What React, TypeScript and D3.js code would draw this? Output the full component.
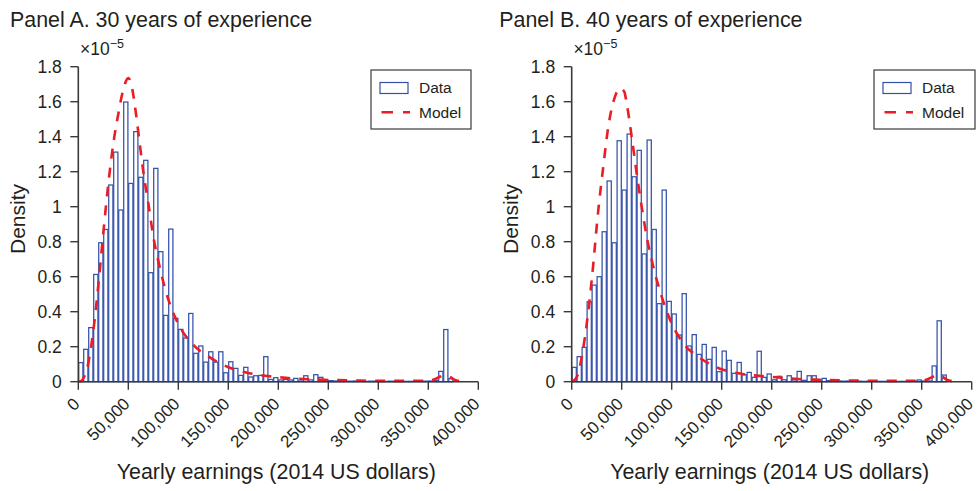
import React from "react";
import * as d3 from "d3";

// ---------- data (density values in units of 1e-5) ----------
const BIN_WIDTH = 5000;

const barsA = [
  0.109, 0.185, 0.309, 0.613, 0.794, 0.870, 1.124, 1.312, 0.981, 1.598,
  1.133, 1.429, 1.168, 1.265, 0.623, 1.219, 0.743, 0.379, 0.872, 0.362,
  0.299, 0.250, 0.390, 0.162, 0.204, 0.112, 0.171, 0.112, 0.171, 0.051,
  0.114, 0.076, 0.036, 0.082, 0.027, 0.034, 0.036, 0.143, 0.013, 0.023,
  0.010, 0.013, 0.010, 0.019, 0.004, 0.034, 0.010, 0.040, 0.025, 0.010,
  0.006, 0.004, 0.004, 0.003, 0.003, 0.004, 0.003, 0.002, 0.003, 0.003,
  0.002, 0.002, 0.003, 0.002, 0.002, 0.002, 0.002, 0.002, 0.003, 0.003,
  0.004, 0.008, 0.059, 0.298, 0.017, 0, 0, 0, 0, 0,
];

const barsB = [
  0.082, 0.143, 0.196, 0.457, 0.552, 0.600, 0.857, 1.147, 0.794, 1.377,
  1.095, 1.415, 1.171, 1.322, 0.730, 1.381, 0.870, 0.446, 1.095, 0.459,
  0.387, 0.267, 0.503, 0.204, 0.269, 0.156, 0.213, 0.128, 0.196, 0.057,
  0.175, 0.122, 0.048, 0.110, 0.040, 0.053, 0.025, 0.174, 0.025, 0.044,
  0.011, 0.031, 0.011, 0.034, 0.011, 0.059, 0.008, 0.034, 0.034, 0.011,
  0.019, 0.006, 0.004, 0.004, 0.003, 0.004, 0.003, 0.003, 0.002, 0.003,
  0.003, 0.002, 0.002, 0.003, 0.002, 0.002, 0.002, 0.003, 0.003, 0.010,
  0.004, 0.004, 0.090, 0.348, 0.038, 0, 0, 0, 0, 0,
];

const modelAx = [0, 3000, 6000, 9000, 12000, 15000, 20000, 25000, 30000, 35000, 40000, 45000, 50000, 53000, 57000, 61000, 65000, 70000, 75000, 82000, 90000, 100000, 115000, 130000, 150000, 170000, 190000, 210000, 230000, 250000, 275000, 300000, 325000, 350000, 356000, 361000, 366000, 371000, 376000, 382000];
const modelAy = [0, 0.005, 0.03, 0.08, 0.17, 0.29, 0.55, 0.85, 1.13, 1.36, 1.53, 1.67, 1.735, 1.70, 1.56, 1.38, 1.20, 1.02, 0.83, 0.64, 0.47, 0.33, 0.21, 0.145, 0.083, 0.05, 0.032, 0.021, 0.014, 0.010, 0.007, 0.005, 0.005, 0.006, 0.013, 0.027, 0.036, 0.030, 0.012, 0.002];

const modelBx = [0, 3000, 6600, 10000, 13300, 20000, 26600, 31600, 36600, 43300, 48300, 52600, 55000, 60000, 65000, 70000, 75000, 81600, 90000, 100000, 111600, 126600, 143300, 166600, 190000, 205000, 226000, 248000, 270000, 290000, 311000, 333000, 350000, 356000, 360000, 365000, 370000, 375000, 381000];
const modelBy = [0, 0.01, 0.048, 0.14, 0.257, 0.58, 0.98, 1.23, 1.457, 1.629, 1.676, 1.657, 1.59, 1.40, 1.19, 1.00, 0.829, 0.657, 0.486, 0.333, 0.219, 0.143, 0.086, 0.048, 0.032, 0.025, 0.015, 0.011, 0.008, 0.006, 0.005, 0.005, 0.007, 0.014, 0.025, 0.035, 0.030, 0.012, 0.002];

const xTicks = [0, 50000, 100000, 150000, 200000, 250000, 300000, 350000, 400000];
const xTickLabels = ["0", "50,000", "100,000", "150,000", "200,000", "250,000", "300,000", "350,000", "400,000"];
const yTicks = [0, 0.2, 0.4, 0.6, 0.8, 1, 1.2, 1.4, 1.6, 1.8];
const yTickLabels = ["0", "0.2", "0.4", "0.6", "0.8", "1", "1.2", "1.4", "1.6", "1.8"];

const titles = ["Panel A. 30 years of experience", "Panel B. 40 years of experience"];
const legendLabels = ["Data", "Model"];
const xLabel = "Yearly earnings (2014 US dollars)";
const yLabel = "Density";

// ---------- style ----------
const FONT = "'Liberation Sans', Arial, Helvetica, sans-serif";
const TEXT = "#231f20";
const AXIS = "#3a3a3a";
const BLUE = "#3352aa";
const RED = "#ec1c24";

interface PanelProps {
  axisX: number;
  titleX: number;
  bars: number[];
  mx: number[];
  my: number[];
  title: string;
  legendX: number;
  legendW: number;
}

const TOP = 66.7;
const BOTTOM = 381.7;
const PW = 400;

function Panel({ axisX, titleX, bars, mx, my, title, legendX, legendW }: PanelProps) {
  const x = d3.scaleLinear().domain([0, 400000]).range([axisX, axisX + PW]);
  const y = d3.scaleLinear().domain([0, 1.8]).range([BOTTOM, TOP]);
  const pts: [number, number][] = mx.map((v, i) => [v, my[i]]);
  const line = d3
    .line<[number, number]>()
    .x((d) => x(d[0]))
    .y((d) => y(d[1]))
    .curve(d3.curveMonotoneX);

  return (
    <g>
      <text x={titleX} y={26.7} fontSize={21.4} fill={TEXT} fontFamily={FONT}>
        {title}
      </text>
      {/* multiplier */}
      <text x={axisX + 1.7} y={55} fontSize={17.5} fill={TEXT} fontFamily={FONT}>
        ×10
        <tspan dy={-7} fontSize={12.5}>
          −5
        </tspan>
      </text>
      {/* bars */}
      <g>
        {bars.map((v, i) =>
          v > 0 ? (
            <rect
              key={i}
              x={x(i * BIN_WIDTH) + 0.4}
              y={y(v)}
              width={x(BIN_WIDTH) - x(0) - 0.8}
              height={Math.max(0, y(0) - y(v))}
              fill="#fff"
              stroke={BLUE}
              strokeWidth={1.25}
            />
          ) : null
        )}
      </g>
      {/* model */}
      <path
        d={line(pts) || ""}
        fill="none"
        stroke={RED}
        strokeWidth={2.6}
        strokeDasharray="10 9"
      />
      {/* y axis */}
      <line x1={axisX} x2={axisX} y1={TOP} y2={BOTTOM} stroke={AXIS} strokeWidth={1.6} />
      {yTicks.map((t, i) => (
        <g key={i}>
          <line x1={axisX - 8} x2={axisX} y1={y(t)} y2={y(t)} stroke={AXIS} strokeWidth={1.4} />
          <text
            x={axisX - 16.5}
            y={y(t)}
            dy="0.36em"
            textAnchor="end"
            fontSize={17.5}
            fill={TEXT}
            fontFamily={FONT}
          >
            {yTickLabels[i]}
          </text>
        </g>
      ))}
      {/* x axis */}
      <line x1={axisX} x2={axisX + PW} y1={BOTTOM} y2={BOTTOM} stroke={AXIS} strokeWidth={1.6} />
      {xTicks.map((t, i) => (
        <g key={i}>
          <line x1={x(t)} x2={x(t)} y1={BOTTOM} y2={BOTTOM + 8} stroke={AXIS} strokeWidth={1.4} />
          <text
            transform={`translate(${x(t) + 2.5},${405}) rotate(-45)`}
            textAnchor="end"
            fontSize={17}
            fill={TEXT}
            fontFamily={FONT}
          >
            {xTickLabels[i]}
          </text>
        </g>
      ))}
      <text
        x={axisX + PW / 2 - 2}
        y={479}
        textAnchor="middle"
        fontSize={21.4}
        fill={TEXT}
        fontFamily={FONT}
      >
        {xLabel}
      </text>
      <text
        transform={`translate(${axisX - 53.5},219) rotate(-90)`}
        textAnchor="middle"
        fontSize={21}
        fill={TEXT}
        fontFamily={FONT}
      >
        {yLabel}
      </text>
      {/* legend */}
      <g>
        <rect x={legendX} y={70} width={legendW} height={59} fill="#fff" stroke={AXIS} strokeWidth={1.2} />
        <rect x={legendX + 9} y={82.5} width={28} height={11} fill="#fff" stroke={BLUE} strokeWidth={1.2} />
        <text x={legendX + 48} y={93} fontSize={15.5} fill={TEXT} fontFamily={FONT}>
          {legendLabels[0]}
        </text>
        <line
          x1={legendX + 10.5}
          x2={legendX + 39}
          y1={112.3}
          y2={112.3}
          stroke={RED}
          strokeWidth={2.6}
          strokeDasharray="11.5 10"
        />
        <text x={legendX + 48} y={118} fontSize={15.5} fill={TEXT} fontFamily={FONT}>
          {legendLabels[1]}
        </text>
      </g>
    </g>
  );
}

export default function App() {
  return (
    <svg width={979} height={491} viewBox="0 0 979 491" style={{ display: "block", position: "absolute", left: 0, top: 0, background: "#fff" }}>
      <rect width={979} height={491} fill="#fff" />
      <Panel axisX={78.3} titleX={10} bars={barsA} mx={modelAx} my={modelAy} title={titles[0]} legendX={371} legendW={100} />
      <Panel axisX={571.7} titleX={499.3} bars={barsB} mx={modelBx} my={modelBy} title={titles[1]} legendX={874} legendW={101} />
    </svg>
  );
}
